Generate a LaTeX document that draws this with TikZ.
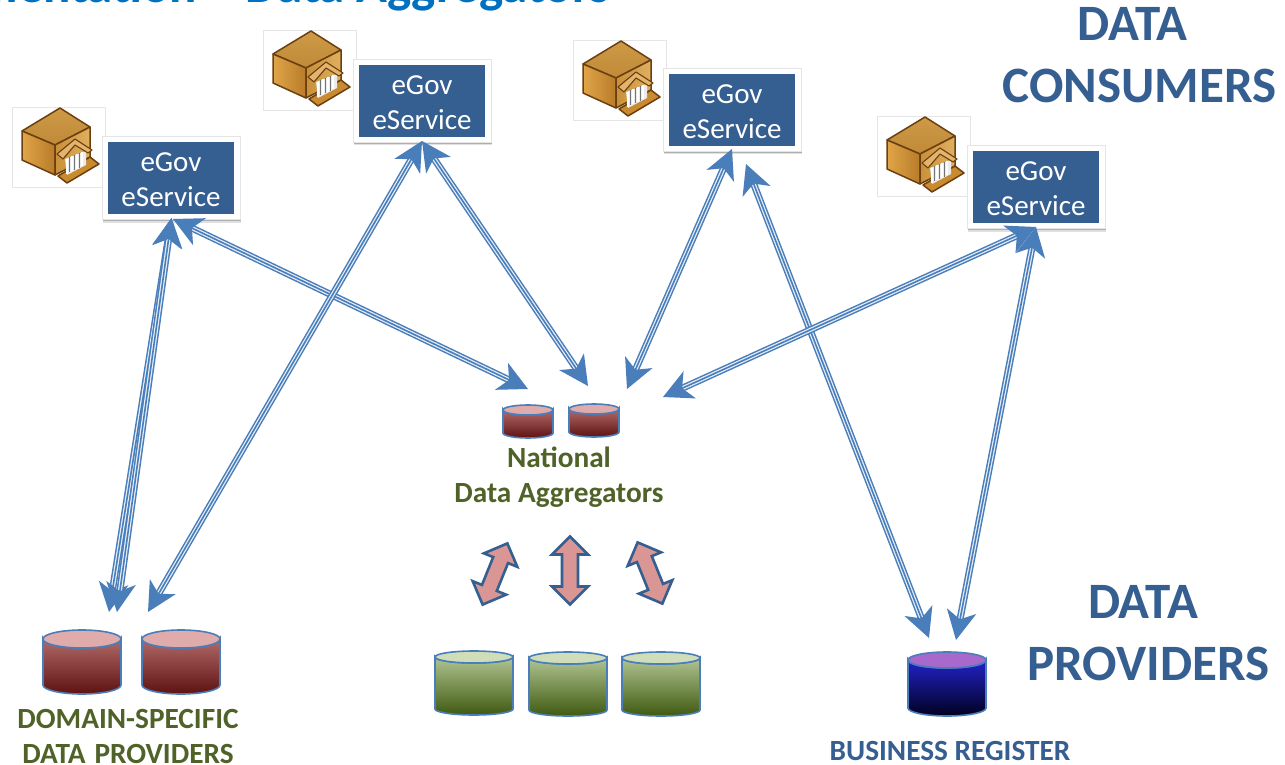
\documentclass[tikz,border=0pt]{standalone}
\usepackage{fontspec}
\setmainfont{Carlito}
\usetikzlibrary{calc,shadows}
\definecolor{tblue}{HTML}{365F91}
\definecolor{linkb}{HTML}{4A7EBB}
\definecolor{tgreen}{HTML}{4F6228}
\definecolor{titleb}{HTML}{0070C0}
\definecolor{pinkfill}{HTML}{D99694}
\definecolor{iconline}{HTML}{6B3F10}
\definecolor{icontopa}{HTML}{CE9A46}\definecolor{icontopb}{HTML}{C08A38}
\definecolor{iconlefta}{HTML}{E0A548}\definecolor{iconleftb}{HTML}{B87C2A}
\definecolor{iconrighta}{HTML}{C89038}\definecolor{iconrightb}{HTML}{E0B060}
\definecolor{iconporch}{HTML}{E3B56C}\definecolor{iconstep}{HTML}{C98A30}
\definecolor{redtop}{HTML}{E0ACAB}\definecolor{redup}{HTML}{B06A68}\definecolor{redlo}{HTML}{5E1212}
\definecolor{greentop}{HTML}{CFDDB8}\definecolor{greenup}{HTML}{B0C490}\definecolor{greenlo}{HTML}{3F5A12}
\definecolor{bluetop}{HTML}{A868CC}\definecolor{blueup}{HTML}{2222C8}\definecolor{bluelo}{HTML}{000020}
\tikzset{
  x=1pt,y=-1pt,
  bigtext/.style={font=\fontsize{51}{62}\selectfont\bfseries,text=tblue,align=center,inner sep=0pt},
  grouplabel/.style={font=\fontsize{29.3}{35}\selectfont\bfseries,text=tgreen,align=center,inner sep=0pt},
  svctext/.style={text=white,font=\fontsize{29}{35}\selectfont,align=center,inner sep=0pt,yshift=-1.5pt},
  svcbox/.style={fill=white,draw=black!10,line width=.5pt,
     minimum width=138pt,minimum height=83pt,inner sep=0pt,
     drop shadow={shadow xshift=1pt,shadow yshift=-3pt,opacity=.12,fill=black},
     drop shadow={shadow xshift=.5pt,shadow yshift=-1.5pt,opacity=.22,fill=black},
     path picture={\fill[tblue] ([xshift=6pt,yshift=5.5pt]path picture bounding box.south west)
        rectangle ([xshift=-6pt,yshift=-5.5pt]path picture bounding box.north east);},
     label={[svctext]center:{eGov\\eService}}},
  updown/.style={draw=tblue,line width=2.6pt,fill=pinkfill,line join=miter},
}
% triple-line double-headed link from coordinate #1 to #2
\newcommand{\linkarrow}[2]{%
  \draw[linkb,line width=7pt,shorten >=20pt,shorten <=20pt] (#1) -- (#2);
  \draw[white!88!linkb,line width=4pt,shorten >=20pt,shorten <=20pt] (#1) -- (#2);
  \draw[linkb,line width=1.6pt,shorten >=20pt,shorten <=20pt] (#1) -- (#2);
  \foreach \pa/\pb in {#1/#2,#2/#1}{%
    \fill[linkb] (\pa) -- ($(\pa)!33pt!-27:(\pb)$) -- ($(\pa)!21pt!(\pb)$) -- ($(\pa)!33pt!27:(\pb)$) -- cycle;
  }%
}
% building icon, tile top-left (#1,#2)
\newcommand{\building}[2]{%
  \begin{scope}[shift={(#1,#2)}]
    \fill[white] (0,0) rectangle (93,80);
    \draw[black!10,line width=.5pt] (93,30) -- (93,0) -- (0,0) -- (0,80) -- (90,80);
    \begin{scope}[line width=1.5pt,line join=round,draw=iconline]
    \shade[top color=icontopa,bottom color=icontopb,draw=iconline] (10,24) -- (48,1) -- (78,20) -- (43,38) -- cycle;
    \shade[left color=iconlefta,right color=iconleftb,draw=iconline] (10,24) -- (43,38) -- (43,68) -- (10,53) -- cycle;
    \shade[left color=iconrighta,right color=iconrightb,draw=iconline] (43,38) -- (78,20) -- (78,50) -- (43,68) -- cycle;
    \fill[iconstep,draw=iconline] (46,69) -- (55,76) -- (87,57) -- (78,50) -- cycle;
    \fill[black!8] (53,52) -- (74,44) -- (74,58) -- (55,68) -- cycle;
    \fill[iconporch,draw=iconline,line width=1.1pt] (45,47) -- (63,32) -- (80,43) -- (76,46) -- (63,38) -- (51,52) -- cycle;
    \foreach \cx/\ca/\cb in {55/52/67,60/49/64,65/47/62,70/45/59}{\draw[white,line width=1.5pt] (\cx,\ca) -- (\cx,\cb);}
    \foreach \cx/\ca/\cb in {57.5/50/65,62.5/48/63,67.5/46/61}{\draw[black!55,line width=.7pt] (\cx,\ca) -- (\cx,\cb);}
    \end{scope}
  \end{scope}}
% cylinder: left x, top y, width, height, top-fill, upper colour, lower colour, rim height
\newcommand{\drum}[8]{%
  \begin{scope}[shift={(#1,#2)}]
    \fill[black,opacity=.18] (1,#4-#8+2) arc[start angle=180,end angle=360,x radius=#3/2-1,y radius=#8+.5] -- cycle;
    \shade[top color=#6,bottom color=#7,draw=linkb,line width=1.6pt]
      (0,#8) -- (0,#4-#8) arc[start angle=180,end angle=0,x radius=#3/2,y radius=#8] -- (#3,#8)
      arc[start angle=0,end angle=180,x radius=#3/2,y radius=#8] -- cycle;
    \draw[linkb,line width=1.6pt,fill=#5] (#3/2,#8) ellipse[x radius=#3/2,y radius=#8];
  \end{scope}}
% vertical block arrow centred at (#1,#2), turned by #3, half length #4
\newcommand{\blockarrow}[4]{%
  \draw[updown,rotate around={#3:(#1,#2)}]
    (#1,#2-#4) -- (#1+18,#2-#4+18) -- (#1+8,#2-#4+18) -- (#1+8,#2+#4-18) -- (#1+18,#2+#4-18)
    -- (#1,#2+#4) -- (#1-18,#2+#4-18) -- (#1-8,#2+#4-18) -- (#1-8,#2-#4+18) -- (#1-18,#2-#4+18) -- cycle;}
\begin{document}
\begin{tikzpicture}
\useasboundingbox (0,0) rectangle (1285,765);
\fill[white] (0,0) rectangle (1285,765);
\begin{scope}
\clip (0,0) rectangle (1285,765);
\node[anchor=base east,font=\fontsize{51}{60}\selectfont\bfseries,text=titleb,inner sep=0pt] (title) at (610,3) {mentation – Data Aggregators};
\end{scope}

\building{12}{107}\building{263}{30}\building{573}{40}\building{877}{116}
\node[svcbox] (s1) at (171,178) {};
\node[svcbox] (s2) at (422,101) {};
\node[svcbox] (s3) at (732,110) {};
\node[svcbox] (s4) at (1036,187) {};

\node[bigtext] (consumers) at (1139.5,55) {DATA\hspace*{14pt}\\CONSUMERS};
\node[bigtext] (providers) at (1148.5,633) {DATA\hspace*{11pt}\\PROVIDERS};

\drum{43}{630}{78}{64}{redtop}{redup}{redlo}{9}
\drum{142}{630}{78}{64}{redtop}{redup}{redlo}{9}
\drum{503}{405}{50}{33}{redtop}{redup}{redlo}{5}
\drum{569}{404}{50}{33}{redtop}{redup}{redlo}{5}
\drum{435}{651}{78}{64}{greentop}{greenup}{greenlo}{6}
\drum{529}{652}{78}{64}{greentop}{greenup}{greenlo}{6}
\drum{622}{652}{78}{64}{greentop}{greenup}{greenlo}{6}
\drum{908}{652}{78}{64}{bluetop}{blueup}{bluelo}{8}

\node[grouplabel] (na) at (559,477.5) {National\\Data Aggregators};
\node[grouplabel] (dp) at (128,736.5) {DOMAIN-SPECIFIC\\DATA\hspace{9pt}PROVIDERS};
\node[grouplabel,text=tblue] (br) at (950,751) {BUSINESS REGISTER};

\coordinate (a1s) at (171.5,218); \coordinate (a1e) at (109,612);
\coordinate (a2s) at (171.5,218); \coordinate (a2e) at (117,612);
\coordinate (b1s) at (173,219); \coordinate (b1e) at (528,389);
\coordinate (c1s) at (422,141); \coordinate (c1e) at (148,612);
\coordinate (c2s) at (422,141); \coordinate (c2e) at (588,386);
\coordinate (d1s) at (732,149); \coordinate (d1e) at (627,389);
\coordinate (d2s) at (746,164); \coordinate (d2e) at (929,638);
\coordinate (e1s) at (1036,227); \coordinate (e1e) at (663,397);
\coordinate (e2s) at (1036,227); \coordinate (e2e) at (956,640);
\linkarrow{a1s}{a1e}\linkarrow{a2s}{a2e}\linkarrow{b1s}{b1e}
\linkarrow{c1s}{c1e}\linkarrow{c2s}{c2e}\linkarrow{d1s}{d1e}
\linkarrow{d2s}{d2e}\linkarrow{e1s}{e1e}\linkarrow{e2s}{e2e}

\blockarrow{495}{574}{-22}{33}
\blockarrow{570}{570.5}{0}{34}
\blockarrow{650}{573}{22}{33}
\end{tikzpicture}
\end{document}
